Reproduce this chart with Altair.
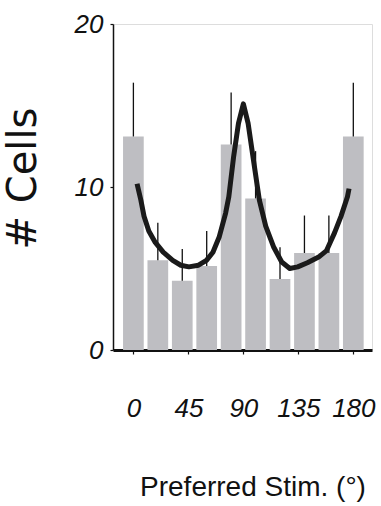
import altair as alt
import pandas as pd

# Bar histogram: preferred stimulus (deg) vs number of cells
angles = [0, 20, 40, 60, 80, 100, 120, 140, 160, 180]
counts = [13.1, 5.5, 4.25, 5.15, 12.6, 9.3, 4.35, 5.95, 5.95, 13.1]
err_top = [16.4, 7.8, 6.2, 7.3, 15.8, 12.2, 6.3, 8.25, 8.25, 16.4]

# Fitted curve
fit_x = [3.0, 6.1, 8.7, 12.6, 17.9, 24.4, 32.2, 38.8, 45.4, 53.3, 59.8, 65.1,
         70.3, 75.5, 78.1, 82.1, 86.0, 90.0, 93.9, 97.8, 103.1, 108.3, 114.9,
         121.4, 128.0, 134.5, 142.4, 151.6, 158.1, 164.7, 169.9, 175.2, 176.5]
fit_y = [10.2, 9.2, 8.2, 7.3, 6.6, 6.0, 5.5, 5.2, 5.1, 5.2, 5.5, 6.0,
         6.95, 8.4, 9.4, 11.9, 13.9, 15.1, 13.9, 11.9, 9.2, 7.6, 6.3,
         5.4, 5.0, 5.1, 5.35, 5.7, 6.1, 7.2, 8.2, 9.4, 9.9]

x_ticks = [0, 45, 90, 135, 180]
y_ticks = [0, 10, 20]

bars = pd.DataFrame({"angle": angles, "count": counts, "err": err_top})
fit = pd.DataFrame({"angle": fit_x, "value": fit_y})

SANS = "Liberation Sans"

xscale = alt.Scale(domain=[-12.6, 191.2], nice=False, zero=False)
yscale = alt.Scale(domain=[0, 20], nice=False)

xaxis = alt.Axis(
    values=x_ticks, title="Preferred Stim. (°)", grid=False,
    domainWidth=3, domainColor="#111111", tickColor="#111111", tickWidth=1.2, tickSize=4,
    labelFont=SANS, labelFontSize=26, labelFontStyle="italic", labelColor="#111111",
    labelBaseline="alphabetic", labelPadding=62, labelFlush=False, labelOverlap=False,
    titleFont=SANS, titleFontSize=28, titleFontWeight="normal", titleColor="#111111",
    titleX=139.5, titleY=145, titleBaseline="alphabetic", titleAlign="center",
)
yaxis = alt.Axis(
    values=y_ticks, title="# Cells", grid=False,
    domainWidth=1.5, domainColor="#111111", tickColor="#111111", tickWidth=1.2, tickSize=3,
    labelFont=SANS, labelFontSize=26, labelFontStyle="italic", labelColor="#111111",
    labelPadding=7, labelBaseline="middle", labelFlush=False, labelOverlap=False,
    titleFont="DejaVu Sans", titleFontSize=40, titleFontWeight="normal", titleColor="#111111",
    titleX=-90, titleY=154, titleBaseline="middle", titleAlign="center", titleAngle=270,
)

bar_layer = alt.Chart(bars).mark_bar(color="#bebec2", size=20.7).encode(
    x=alt.X("angle:Q", scale=xscale, axis=xaxis),
    y=alt.Y("count:Q", scale=yscale, axis=yaxis),
)
err_layer = alt.Chart(bars).mark_rule(color="#111111", strokeWidth=1.3).encode(
    x=alt.X("angle:Q", scale=xscale),
    y=alt.Y("count:Q", scale=yscale),
    y2="err:Q",
)
fit_layer = alt.Chart(fit).mark_line(
    color="#1a1a1a", strokeWidth=5, strokeJoin="round", strokeCap="butt", interpolate="linear"
).encode(
    x=alt.X("angle:Q", scale=xscale),
    y=alt.Y("value:Q", scale=yscale),
)

chart = alt.layer(bar_layer, err_layer, fit_layer).properties(
    width=259, height=326,
    autosize=alt.AutoSizeParams(type="none"),
    padding={"left": 113, "top": 24, "right": 9, "bottom": 156},
).configure_view(stroke=None).configure(background="white")

chart.save("out.html", embed_options={"renderer": "svg", "actions": False})
